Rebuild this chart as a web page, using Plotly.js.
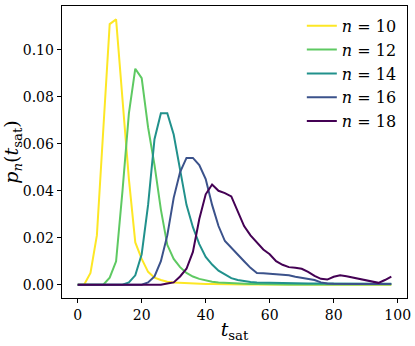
<!DOCTYPE html>
<html>
<head>
<meta charset="utf-8">
<script src="https://cdn.plot.ly/plotly-3.0.1.min.js"></script>
<style>html,body{margin:0;padding:0;background:#fff;}#chart{width:415px;height:346px;}</style>
</head>
<body>
<div id="chart"></div>
<script>
// t_sat values (0, 2, ..., 98)
const tSat = [0,2,4,6,8,10,12,14,16,18,20,22,24,26,28,30,32,34,36,38,40,42,44,46,48,50,52,54,56,58,60,62,64,66,68,70,72,74,76,78,80,82,84,86,88,90,92,94,96,98];

const seriesNames = ["n = 10", "n = 12", "n = 14", "n = 16", "n = 18"];
const seriesColors = ["#fde725", "#5ec962", "#21918c", "#3b528b", "#440154"];

const p10 = [0,0,0.005,0.021,0.066,0.111,0.113,0.078,0.045,0.018,0.011,0.0055,0.003,0.002,0.0013,0.001,0.0008,0.0006,0.0005,0.0004,0.0003,0.0003,0.0002,0.0002,0.0002,0.0001,0.0001,0.0001,0.0001,0.0001,0.0001,0,0,0,0,0,0,0,0,0,0,0,0,0,0,0,0,0,0,0];
const p12 = [0,0,0,0,0,0.003,0.010,0.040,0.073,0.092,0.088,0.067,0.051,0.032,0.017,0.011,0.0075,0.005,0.0035,0.0025,0.0018,0.0013,0.001,0.0008,0.0006,0.0005,0.0004,0.0003,0.0003,0.0002,0.0002,0.0002,0.0001,0.0001,0.0001,0.0001,0.0001,0.0001,0.0001,0.0001,0.0001,0.0001,0.0001,0.0001,0.0001,0.0001,0.0001,0.0001,0.0001,0.0001];
const p14 = [0,0,0,0,0,0,0,0,0.001,0.004,0.013,0.034,0.062,0.073,0.073,0.064,0.049,0.034,0.0245,0.0173,0.0118,0.0086,0.006,0.0044,0.0028,0.002,0.0015,0.0012,0.001,0.0009,0.0008,0.0007,0.0007,0.0006,0.0006,0.0005,0.0005,0.0005,0.0005,0.0004,0.0004,0.0004,0.0004,0.0004,0.0004,0.0004,0.0004,0.0004,0.0004,0.0004];
const p16 = [0,0,0,0,0,0,0,0,0,0,0,0.001,0.0035,0.010,0.021,0.037,0.048,0.054,0.054,0.051,0.045,0.034,0.025,0.0186,0.0156,0.013,0.010,0.0072,0.005,0.0049,0.0047,0.0042,0.004,0.004,0.0034,0.003,0.0025,0.002,0.001,0.0005,0.0004,0.0003,0.0003,0.0003,0.0003,0.0003,0.0003,0.0003,0.0003,0.0003];
const p18 = [0,0,0,0,0,0,0,0,0,0,0,0,0,0,0.0005,0.001,0.0035,0.0068,0.014,0.028,0.0385,0.0427,0.040,0.039,0.0376,0.031,0.025,0.021,0.018,0.015,0.013,0.010,0.0085,0.0075,0.0072,0.0068,0.0055,0.0038,0.0025,0.0022,0.0034,0.004,0.0036,0.0031,0.0025,0.0019,0.0013,0.0008,0.002,0.0035];

const seriesValues = [p10, p12, p14, p16, p18];

const mathName = s => s.replace("n", "<i>n</i>");

const traces = seriesValues.map((vals, i) => ({
  x: tSat,
  y: vals,
  type: "scatter",
  mode: "lines",
  name: mathName(seriesNames[i]),
  line: {color: seriesColors[i], width: 2}
}));

const font = "DejaVu Serif";

const layout = {
  width: 415,
  height: 346,
  margin: {l: 62, r: 8, t: 6, b: 48},
  paper_bgcolor: "#ffffff",
  plot_bgcolor: "#ffffff",
  font: {family: font, size: 14, color: "#000"},
  showlegend: true,
  legend: {
    x: 0.985, xanchor: "right", y: 0.99, yanchor: "top",
    bgcolor: "rgba(255,255,255,0)", borderwidth: 0,
    font: {family: font, size: 16, color: "#000"},
    tracegroupgap: 0
  },
  xaxis: {
    range: [-4.9, 102.9],
    tickvals: [0,20,40,60,80,100],
    ticks: "outside", ticklen: 4, tickwidth: 1, tickcolor: "#000",
    showline: true, linecolor: "#000", linewidth: 1.3, mirror: true,
    showgrid: false, zeroline: false,
    tickfont: {family: font, size: 14},
    title: {text: "<i>t</i><sub>sat</sub>", font: {family: font, size: 19}, standoff: 0}
  },
  yaxis: {
    range: [-0.00565, 0.1187],
    tickvals: [0, 0.02, 0.04, 0.06, 0.08, 0.10],
    tickformat: ".2f",
    ticks: "outside", ticklen: 4, tickwidth: 1, tickcolor: "#000",
    showline: true, linecolor: "#000", linewidth: 1.3, mirror: true,
    showgrid: false, zeroline: false,
    tickfont: {family: font, size: 14},
    title: {text: "<i>p</i><sub><i>n</i></sub>(<i>t</i><sub>sat</sub>)", font: {family: font, size: 19}, standoff: 6}
  }
};

Plotly.newPlot("chart", traces, layout, {staticPlot: true, displayModeBar: false});
</script>
</body>
</html>
